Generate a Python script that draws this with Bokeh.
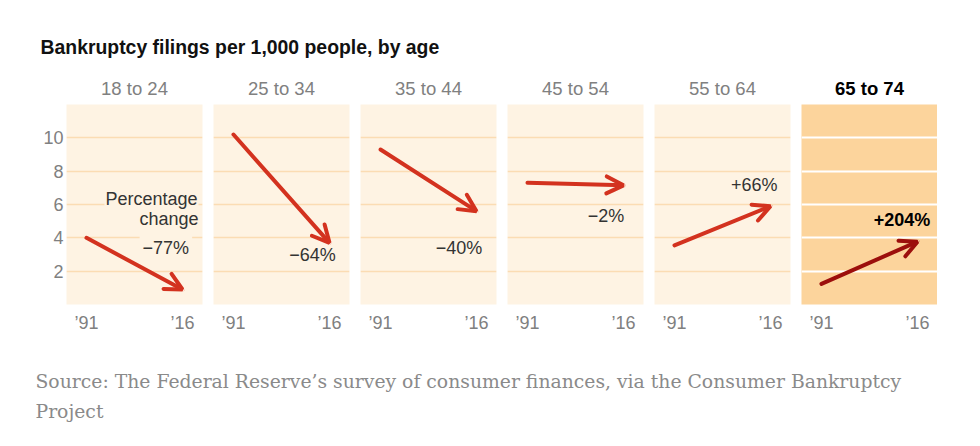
from bokeh.plotting import figure
from bokeh.models import Range1d, FixedTicker, Label, Arrow, OpenHead
from bokeh.layouts import column, row
from bokeh.embed import file_html
from bokeh.resources import INLINE

# ---------------- data ----------------
age_groups = ["18 to 24", "25 to 34", "35 to 44", "45 to 54", "55 to 64", "65 to 74"]
years = [1991, 2016]
year_labels = ["\u201991", "\u201916"]
filings_1991 = [4.0, 10.2, 9.3, 7.3, 3.55, 1.24]
filings_2016 = [0.9, 3.7, 5.6, 7.15, 5.9, 3.77]
pct_change = ["\u221277%", "\u221264%", "\u221240%", "\u22122%", "+66%", "+204%"]
y_ticks = [2, 4, 6, 8, 10]

# label anchor positions (data units) for the percentage texts
label_x = [2018.5, 2018.4, 2018.3, 2017.0, 2018.6, 2020.1]
label_y = [3.38, 3.0, 3.38, 5.34, 7.2, 5.08]

TITLE = "Bankruptcy filings per 1,000 people, by age"
SOURCE_LINES = ["Source: The Federal Reserve\u2019s survey of consumer finances, via the Consumer Bankruptcy",
                "Project"]

SANS = "Liberation Sans"
SERIF = "DejaVu Serif"
LIGHT_BG = "#fef3e3"
HI_BG = "#fcd49c"
LIGHT_GRID = "#fbdcb3"
RED = "#d3321f"
DARK_RED = "#9c0f0c"

TOTAL_W = 972


def text_fig(h):
    f = figure(width=TOTAL_W, height=h, x_range=Range1d(0, TOTAL_W), y_range=Range1d(h, 0),
               output_backend="svg", toolbar_location=None, min_border=0)
    f.axis.visible = False
    f.grid.visible = False
    f.outline_line_color = None
    f.background_fill_color = "white"
    f.border_fill_color = "white"
    return f


# title figure
title_fig = text_fig(68)
title_fig.add_layout(Label(x=40, y=46, text=TITLE, text_font=SANS, text_font_style="bold",
                           text_font_size="19.4px", text_color="#111111", text_baseline="middle"))

panels = []
n = len(age_groups)
for i in range(n):
    first = i == 0
    last = i == n - 1
    hi = last
    left = 66 if first else 0
    right = 0 if last else 11
    w = left + 136 + right
    p = figure(width=w, height=276, x_range=Range1d(1985.8, 2021.2), y_range=Range1d(0, 12),
               output_backend="svg", toolbar_location=None,
               min_border_left=left, min_border_right=right, min_border_top=36, min_border_bottom=40)
    p.background_fill_color = HI_BG if hi else LIGHT_BG
    p.border_fill_color = "white"
    p.outline_line_color = None

    p.title.text = age_groups[i]
    p.title.align = "center"
    p.title.text_font = SANS
    p.title.text_font_size = "18.5px"
    p.title.text_font_style = "bold" if hi else "normal"
    p.title.text_color = "#000000" if hi else "#808080"
    p.title.standoff = 12

    # x axis
    p.xaxis.ticker = FixedTicker(ticks=years)
    p.xaxis.major_label_overrides = {y: l for y, l in zip(years, year_labels)}
    p.xaxis.axis_line_color = None
    p.xaxis.major_tick_line_color = None
    p.xaxis.minor_tick_line_color = None
    p.xaxis.major_tick_out = 0
    p.xaxis.major_tick_in = 0
    p.xaxis.major_label_standoff = 8
    p.xaxis.major_label_text_font = SANS
    p.xaxis.major_label_text_font_size = "18px"
    p.xaxis.major_label_text_color = "#808080"
    p.xgrid.visible = False

    # y axis / grid
    p.yaxis.ticker = FixedTicker(ticks=y_ticks)
    p.ygrid.ticker = FixedTicker(ticks=y_ticks)
    p.ygrid.grid_line_color = "white" if hi else LIGHT_GRID
    p.ygrid.grid_line_width = 2 if hi else 1.5
    if first:
        p.yaxis.axis_line_color = None
        p.yaxis.major_tick_line_color = None
        p.yaxis.minor_tick_line_color = None
        p.yaxis.major_tick_out = 0
        p.yaxis.major_tick_in = 0
        p.yaxis.major_label_standoff = 3
        p.yaxis.major_label_text_font = SANS
        p.yaxis.major_label_text_font_size = "18px"
        p.yaxis.major_label_text_color = "#808080"
    else:
        p.yaxis.visible = False

    bg = HI_BG if hi else LIGHT_BG
    if first:
        p.add_layout(Label(x=2020.16, y=6.34, text="Percentage", text_font=SANS, text_font_size="18px",
                           text_color="#333333", text_align="right", text_baseline="middle",
                           background_fill_color=bg, padding=1))
        p.add_layout(Label(x=2020.16, y=5.14, text="change", text_font=SANS, text_font_size="18px",
                           text_color="#333333", text_align="right", text_baseline="middle"))

    col = DARK_RED if hi else RED
    p.add_layout(Arrow(end=OpenHead(size=17, line_width=4, line_color=col, line_cap="round"),
                       x_start=years[0], y_start=filings_1991[i],
                       x_end=years[1], y_end=filings_2016[i],
                       line_width=4, line_color=col, line_cap="round"))

    p.add_layout(Label(x=label_x[i], y=label_y[i], text=pct_change[i], text_font=SANS,
                       text_font_size="18px", text_font_style="bold" if hi else "normal",
                       text_color="#000000" if hi else "#333333", text_align="right",
                       text_baseline="middle",
                       background_fill_color=bg if first else None, padding=3))
    panels.append(p)

source_fig = text_fig(94)
for k, (line, yy) in enumerate(zip(SOURCE_LINES, [37.0, 66.5])):
    source_fig.add_layout(Label(x=35, y=yy, text=line, text_font=SERIF, text_font_size="18.8px",
                                text_color="#8a8a8a", text_baseline="middle"))

layout = column(title_fig, row(*panels), source_fig)

open("out.html", "w").write(file_html(layout, INLINE))
